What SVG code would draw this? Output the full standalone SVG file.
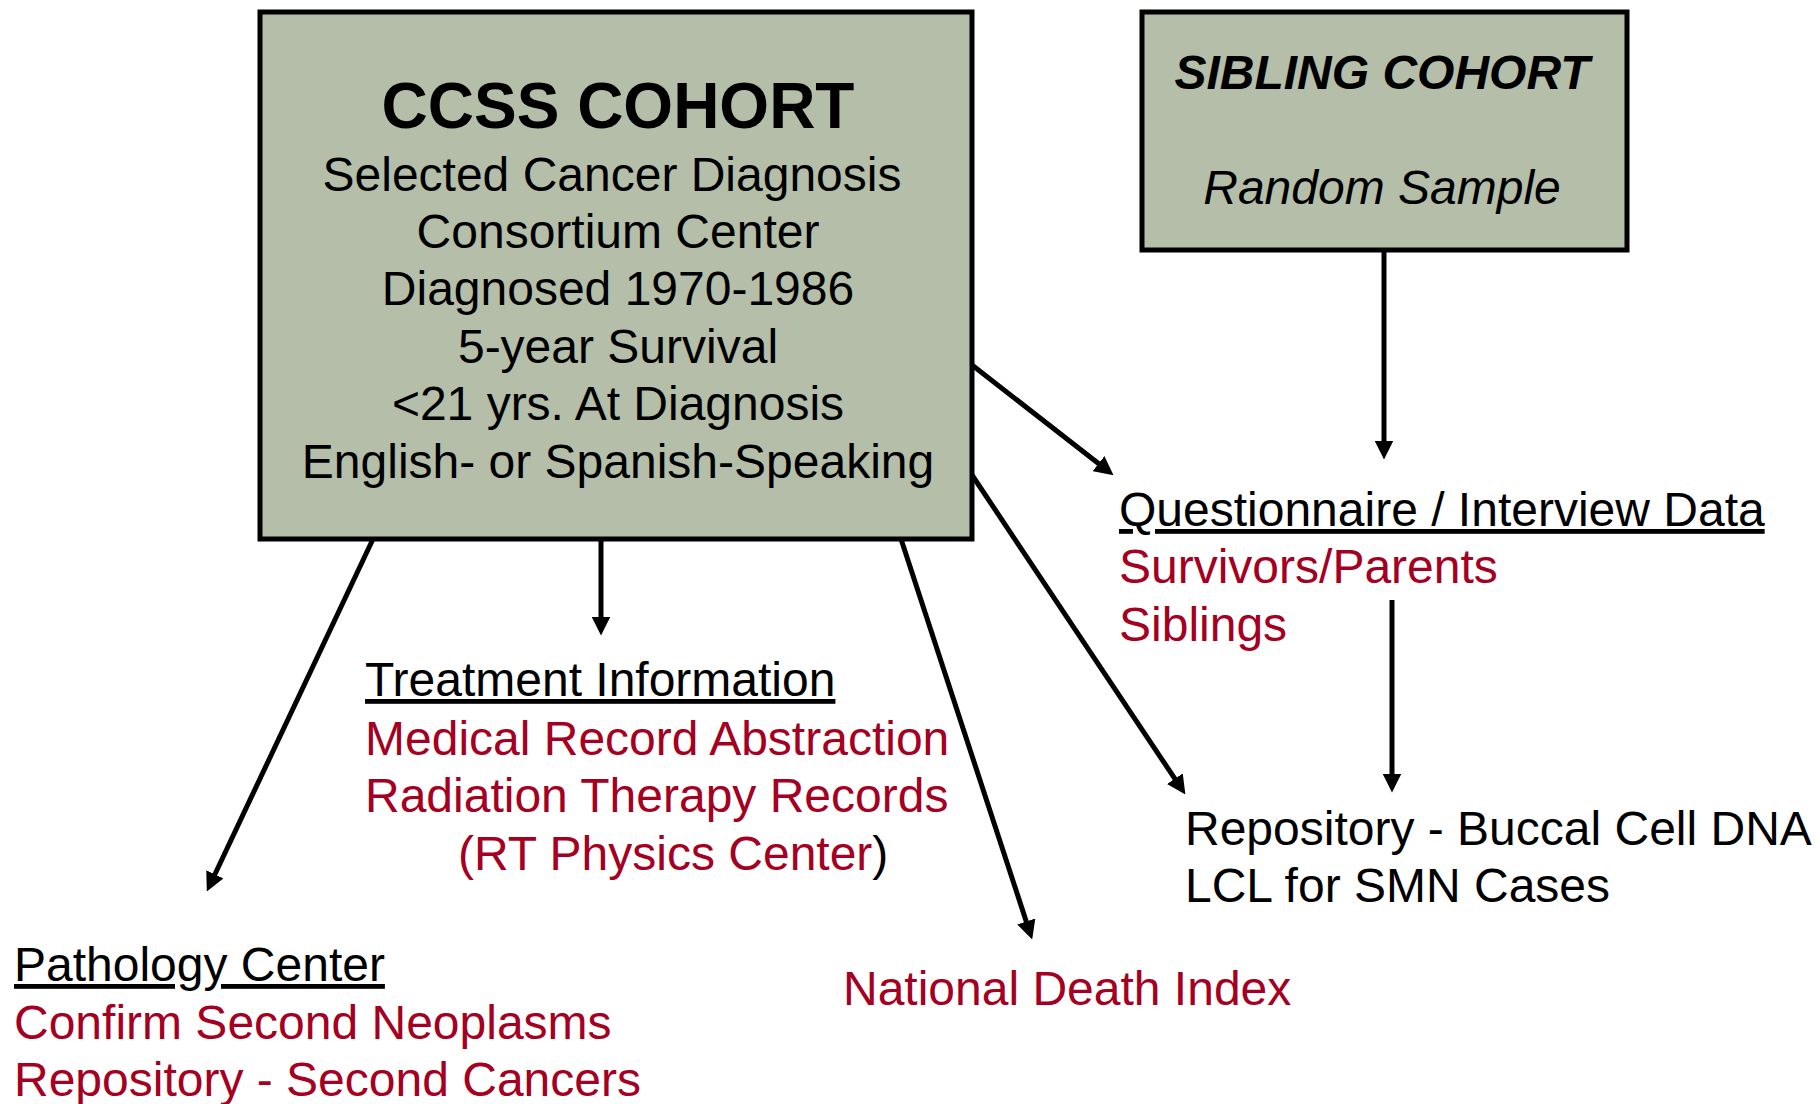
<svg xmlns="http://www.w3.org/2000/svg" width="1818" height="1104" viewBox="0 0 1818 1104">
<style>
text{font-family:"Liberation Sans",Arial,sans-serif;font-size:48px;fill:#000}
.red{fill:#A50021}
.u{text-decoration:underline}
.box{fill:#B4BEA8;stroke:#000;stroke-width:5}
.c{text-anchor:middle}
.conn{stroke:#000;stroke-width:5;fill:none}
</style>
<defs>
<marker id="ah" viewBox="0 0 18 18" markerWidth="19" markerHeight="19" refX="8" refY="9" orient="auto" markerUnits="userSpaceOnUse">
<path d="M0,0 L18,9 L0,18 z" fill="#000"/>
</marker>
</defs>
<g id="connectors">
<line class="conn" x1="1384" y1="250" x2="1384" y2="449" marker-end="url(#ah)"/>
<line class="conn" x1="972" y1="365" x2="1105.2" y2="468.8" marker-end="url(#ah)"/>
<line class="conn" x1="972" y1="475" x2="1179.5" y2="785.7" marker-end="url(#ah)"/>
<line class="conn" x1="901" y1="539" x2="1028.9" y2="929.5" marker-end="url(#ah)"/>
<line class="conn" x1="601" y1="539" x2="601" y2="625" marker-end="url(#ah)"/>
<line class="conn" x1="373" y1="539" x2="211.3" y2="882" marker-end="url(#ah)"/>
<line class="conn" x1="1392" y1="600" x2="1392" y2="782" marker-end="url(#ah)"/>
</g>
<g id="ccss">
<rect class="box" x="260" y="12" width="712" height="527"/>
<text class="c" x="618" y="128" style="font-size:64px;font-weight:bold">CCSS COHORT</text>
<text class="c" x="612" y="191">Selected Cancer Diagnosis</text>
<text class="c" x="618" y="248">Consortium Center</text>
<text class="c" x="618" y="305">Diagnosed 1970-1986</text>
<text class="c" x="618" y="363">5-year Survival</text>
<text class="c" x="618" y="420">&lt;21 yrs. At Diagnosis</text>
<text class="c" x="618" y="478">English- or Spanish-Speaking</text>
</g>
<g id="sibling">
<rect class="box" x="1142" y="12" width="485" height="238"/>
<text class="c" x="1382" y="89" style="font-weight:bold;font-style:italic">SIBLING COHORT</text>
<text class="c" x="1382" y="204" style="font-style:italic">Random Sample</text>
</g>
<g id="questionnaire">
<text class="u" x="1119" y="526">Questionnaire / Interview Data</text>
<text class="red" x="1119" y="583">Survivors/Parents</text>
<text class="red" x="1119" y="641">Siblings</text>
</g>
<g id="repository">
<text x="1185" y="845">Repository - Buccal Cell DNA</text>
<text x="1185" y="902">LCL for SMN Cases</text>
</g>
<g id="treatment">
<text class="u" x="365" y="696">Treatment Information</text>
<text class="red" x="365" y="755">Medical Record Abstraction</text>
<text class="red" x="365" y="812">Radiation Therapy Records</text>
<text class="red" x="458" y="870">(RT Physics Center<tspan style="fill:#000">)</tspan></text>
</g>
<g id="pathology">
<text class="u" x="14" y="981">Pathology Center</text>
<text class="red" x="14" y="1039">Confirm Second Neoplasms</text>
<text class="red" x="14" y="1096">Repository - Second Cancers</text>
</g>
<g id="ndi">
<text class="red" x="843" y="1005">National Death Index</text>
</g>
</svg>
